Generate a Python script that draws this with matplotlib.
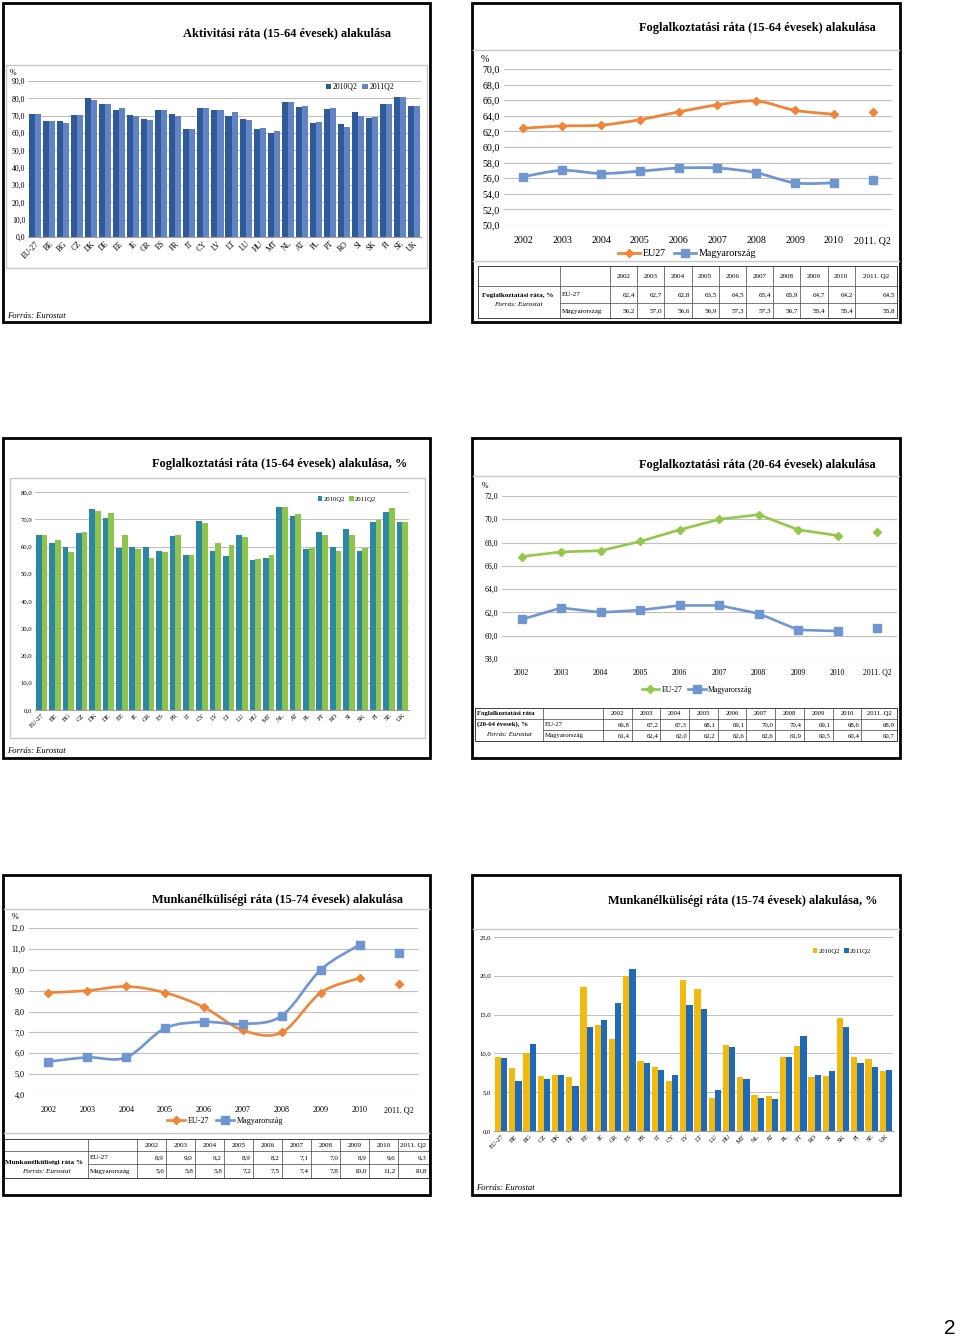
import numpy as np
import matplotlib
matplotlib.use('Agg')
import matplotlib.pyplot as plt
from matplotlib.patches import Rectangle, PathPatch
from matplotlib.lines import Line2D
from matplotlib.path import Path

W, H = 960, 1340
plt.rcParams['font.family'] = ['Liberation Serif', 'DejaVu Serif']

countries = ['EU-27', 'BE', 'BG', 'CZ', 'DK', 'DE', 'EE', 'IE', 'GR', 'ES', 'FR', 'IT', 'CY', 'LV',
             'LT', 'LU', 'HU', 'MT', 'NL', 'AT', 'PL', 'PT', 'RO', 'SI', 'SK', 'FI', 'SE', 'UK']
years = ['2002', '2003', '2004', '2005', '2006', '2007', '2008', '2009', '2010', '2011. Q2']
quarters = ['2010Q2', '2011Q2']

# aktivitasi rata 15-64
act_2010 = [71.0, 67.0, 67.2, 70.1, 80.1, 76.6, 73.5, 70.1, 68.2, 73.5, 70.8, 62.4, 74.3, 73.4,
            69.8, 67.8, 62.4, 60.2, 78.0, 75.0, 65.7, 74.0, 65.0, 72.0, 68.8, 76.6, 80.7, 75.5]
act_2011 = [71.1, 66.8, 65.5, 70.6, 79.3, 76.9, 74.5, 69.6, 67.3, 73.2, 69.8, 62.2, 74.3, 73.1,
            72.2, 67.4, 63.0, 61.2, 77.8, 75.5, 66.1, 74.5, 63.3, 70.0, 69.0, 76.9, 81.0, 75.5]

# foglalkoztatasi rata 15-64, orszagonkent
emp_2010 = [64.2, 61.3, 60.0, 65.0, 73.8, 70.5, 59.3, 60.0, 59.8, 58.5, 63.8, 57.0, 69.5, 58.5,
            56.5, 64.2, 55.2, 55.6, 74.5, 71.2, 59.0, 65.5, 60.0, 66.5, 58.5, 69.0, 72.8, 69.0]
emp_2011 = [64.2, 62.5, 58.0, 65.5, 73.0, 72.2, 64.2, 59.0, 55.8, 57.8, 64.2, 56.8, 68.8, 61.2,
            60.5, 63.5, 55.5, 57.0, 74.5, 72.0, 59.4, 64.4, 58.5, 64.2, 59.5, 69.6, 74.3, 69.0]

# munkanelkulisegi rata 15-74, orszagonkent
unemp_2010 = [9.6, 8.1, 10.0, 7.1, 7.2, 7.0, 18.6, 13.7, 11.8, 20.0, 9.0, 8.3, 6.4, 19.4,
              18.3, 4.2, 11.1, 6.9, 4.6, 4.5, 9.5, 10.9, 6.9, 7.1, 14.5, 9.6, 9.3, 7.7]
unemp_2011 = [9.4, 6.5, 11.2, 6.7, 7.2, 5.8, 13.4, 14.3, 16.5, 20.9, 8.7, 7.8, 7.2, 16.2,
              15.7, 5.3, 10.8, 6.7, 4.2, 4.1, 9.5, 12.3, 7.2, 7.7, 13.4, 8.8, 8.2, 7.8]

# idosorok
emp1564_eu = [62.4, 62.7, 62.8, 63.5, 64.5, 65.4, 65.9, 64.7, 64.2, 64.5]
emp1564_hu = [56.2, 57.0, 56.6, 56.9, 57.3, 57.3, 56.7, 55.4, 55.4, 55.8]
emp2064_eu = [66.8, 67.2, 67.3, 68.1, 69.1, 70.0, 70.4, 69.1, 68.6, 68.9]
emp2064_hu = [61.4, 62.4, 62.0, 62.2, 62.6, 62.6, 61.9, 60.5, 60.4, 60.7]
unemp_eu = [8.9, 9.0, 9.2, 8.9, 8.2, 7.1, 7.0, 8.9, 9.6, 9.3]
unemp_hu = [5.6, 5.8, 5.8, 7.2, 7.5, 7.4, 7.8, 10.0, 11.2, 10.8]

GRID = '#BFBFBF'
FRAME = '#C8C8C8'

fig = plt.figure(figsize=(9.6, 13.4), dpi=100)


def px_axes(x0, y0, x1, y1):
    return fig.add_axes([x0 / W, 1 - y1 / H, (x1 - x0) / W, (y1 - y0) / H])


def ftext(x, y, s, **kw):
    fig.text(x / W, 1 - y / H, s, **kw)


def box(x0, y0, x1, y1, lw=2.0, color='black'):
    fig.patches.append(Rectangle((x0 / W, 1 - y1 / H), (x1 - x0) / W, (y1 - y0) / H,
                                 transform=fig.transFigure, fill=False, lw=lw, edgecolor=color))


def hline(x0, x1, y, color=FRAME, lw=1.0):
    fig.add_artist(Line2D([x0 / W, x1 / W], [1 - y / H, 1 - y / H], color=color, lw=lw))


def comma(v):
    return f'{v:.1f}'.replace('.', ',')


def smooth_line(ax, xs, ys, color, lw=1.8):
    # bezier through the points, like excel's smoothed lines
    pts = np.column_stack([xs, ys]).astype(float)
    n = len(pts)
    verts = [pts[0]]
    codes = [Path.MOVETO]
    for i in range(n - 1):
        p0 = pts[max(i - 1, 0)]
        p1 = pts[i]
        p2 = pts[i + 1]
        p3 = pts[min(i + 2, n - 1)]
        verts += [p1 + (p2 - p0) / 6, p2 - (p3 - p1) / 6, p2]
        codes += [Path.CURVE4] * 3
    ax.add_patch(PathPatch(Path(verts, codes), fill=False, edgecolor=color, lw=lw, zorder=3))


def bar_panel(rect, v1, v2, c1, c2, ymax, step, fs, leg_xy, pct=None):
    ax = px_axes(*rect)
    x = np.arange(len(countries))
    w = 0.43
    ax.bar(x - w / 2, v1, w, color=c1, label=quarters[0], zorder=2)
    ax.bar(x + w / 2, v2, w, color=c2, label=quarters[1], zorder=2)
    ax.set_xlim(-0.5, len(countries) - 0.5)
    ax.set_ylim(0, ymax)
    ticks = np.arange(0, ymax + 0.01, step)
    ax.set_yticks(ticks)
    ax.set_yticklabels([comma(t) for t in ticks], fontsize=fs)
    ax.set_xticks(x)
    ax.set_xticklabels(countries, rotation=45, ha='right', rotation_mode='anchor', fontsize=fs)
    ax.grid(axis='y', color=GRID, lw=0.7)
    ax.set_axisbelow(True)
    for s in ['top', 'right', 'left']:
        ax.spines[s].set_visible(False)
    ax.spines['bottom'].set_color('#A0A0A0')
    ax.tick_params(length=0, pad=2)
    ax.patch.set_alpha(0)
    ax.legend(loc='center', bbox_to_anchor=(leg_xy[0] / W, 1 - leg_xy[1] / H),
              bbox_transform=fig.transFigure, ncol=2, frameon=False, fontsize=fs,
              handlelength=0.7, handleheight=0.7, handletextpad=0.2, columnspacing=0.6)
    if pct:
        ftext(pct[0], pct[1], '%', fontsize=fs, ha='center', va='center')
    return ax


def line_panel(rect, eu, hu, c_eu, ymin, ymax, step, fs, leg_xy, eu_label, smooth, pct,
               lw=1.8, xpad=3):
    ax = px_axes(*rect)
    x = np.arange(len(years))
    if smooth:
        smooth_line(ax, x[:-1], eu[:-1], c_eu, lw)
        smooth_line(ax, x[:-1], hu[:-1], '#7096D2', lw)
    else:
        ax.plot(x[:-1], eu[:-1], color=c_eu, lw=lw, zorder=3)
        ax.plot(x[:-1], hu[:-1], color='#7096D2', lw=lw, zorder=3)
    ax.plot(x, eu, ls='none', marker='D', ms=4, color=c_eu, zorder=4)
    ax.plot(x, hu, ls='none', marker='s', ms=5.5, color='#7096D2', zorder=4)
    ax.set_xlim(-0.5, len(years) - 0.5)
    ax.set_ylim(ymin, ymax)
    ticks = np.arange(ymin, ymax + 0.01, step)
    ax.set_yticks(ticks)
    ax.set_yticklabels([comma(t) for t in ticks], fontsize=fs)
    ax.set_xticks(x)
    ax.set_xticklabels(years, fontsize=fs)
    ax.grid(axis='y', color=GRID, lw=0.8)
    ax.set_axisbelow(True)
    for s in ['top', 'right', 'left', 'bottom']:
        ax.spines[s].set_visible(False)
    ax.tick_params(axis='y', length=0, pad=3)
    ax.tick_params(axis='x', length=0, pad=xpad)
    ax.patch.set_alpha(0)
    handles = [Line2D([], [], color=c_eu, lw=lw, marker='D', ms=4),
               Line2D([], [], color='#7096D2', lw=lw, marker='s', ms=5.5)]
    ax.legend(handles, [eu_label, 'Magyarország'], loc='center',
              bbox_to_anchor=(leg_xy[0] / W, 1 - leg_xy[1] / H), bbox_transform=fig.transFigure,
              ncol=2, frameon=False, fontsize=fs, handlelength=2.2, handletextpad=0.3,
              columnspacing=0.8)
    ftext(pct[0], pct[1], '%', fontsize=fs, ha='center', va='center')
    return ax


def data_table(rect, col_x, row_y, eu, hu, fs, labels):
    x0, y0, x1, y1 = rect
    ax = px_axes(x0, y0, x1, y1)
    ax.set_xlim(x0, x1)
    ax.set_ylim(y1, y0)
    ax.axis('off')
    lc = '#404040'
    ax.plot([col_x[0], col_x[-1], col_x[-1], col_x[0], col_x[0]],
            [row_y[0], row_y[0], row_y[-1], row_y[-1], row_y[0]], color=lc, lw=0.7)
    for cx in col_x[1:-1]:
        ax.plot([cx, cx], [row_y[0], row_y[-1]], color=lc, lw=0.5)
    ax.plot([col_x[0], col_x[-1]], [row_y[1], row_y[1]], color=lc, lw=0.5)
    ax.plot([col_x[1], col_x[-1]], [row_y[2], row_y[2]], color=lc, lw=0.5)
    for i, yr in enumerate(years):
        ax.text((col_x[i + 2] + col_x[i + 3]) / 2, (row_y[0] + row_y[1]) / 2 + 0.5, yr,
                ha='center', va='center', fontsize=fs)
    for r, (name, vals) in enumerate([('EU-27', eu), ('Magyarország', hu)]):
        ym = (row_y[r + 1] + row_y[r + 2]) / 2 + 0.5
        ax.text(col_x[1] + 1.5, ym, name, ha='left', va='center', fontsize=fs)
        for i, v in enumerate(vals):
            ax.text(col_x[i + 3] - 2, ym, comma(v), ha='right', va='center', fontsize=fs)
    for s, lx, ly, kw in labels:
        ax.text(lx, ly, s, va='center', fontsize=fs, **kw)


# panel borders
for bx in [(3, 3, 430, 322), (472, 3, 900, 322), (3, 438, 430, 758),
           (472, 438, 900, 758), (3, 875, 430, 1195), (472, 875, 900, 1195)]:
    box(*bx)

TITLE = dict(fontsize=8.9, fontweight='bold', ha='center', va='center')

# --- aktivitasi rata
ftext(287, 33, 'Aktivitási ráta (15-64 évesek) alakulása', **TITLE)
box(6, 65, 427, 268, lw=1.0, color=FRAME)
bar_panel((28, 81, 421, 237), act_2010, act_2011, '#2E5A9A', '#6283C4', 90, 10, 5.6,
          (360, 87), pct=(13, 73))
ftext(7, 316, 'Forrás: Eurostat', fontsize=6.2, style='italic', va='center')

# --- foglalkoztatasi rata 15-64 idosor
ftext(757, 28, 'Foglalkoztatási ráta (15-64 évesek) alakulása', **TITLE)
hline(473, 899, 50)
hline(473, 899, 261)
line_panel((504, 69, 892, 225), emp1564_eu, emp1564_hu, '#F0853A', 50, 70, 2, 7.2,
           (687, 254), 'EU27', True, (485, 59), lw=2.0, xpad=8)
data_table((474, 264, 899, 320), [478, 560, 610] + [610 + 27.2 * k for k in range(1, 10)] + [897],
           [266, 286, 303, 318], emp1564_eu, emp1564_hu, 5.1,
           [('Foglalkoztatási ráta, %', 482, 296, dict(fontweight='bold', ha='left')),
            ('Forrás: Eurostat', 518, 305, dict(style='italic', ha='center'))])

# --- foglalkoztatasi rata orszagonkent
ftext(280, 464, 'Foglalkoztatási ráta (15-64 évesek) alakulása, %', **TITLE)
box(10, 478, 425, 738, lw=1.0, color=FRAME)
bar_panel((35, 492, 409, 710), emp_2010, emp_2011, '#2C87A5', '#8DC449', 80, 10, 4.8,
          (347, 499))
ftext(7, 751, 'Forrás: Eurostat', fontsize=6.2, style='italic', va='center')

# --- foglalkoztatasi rata 20-64 idosor
ftext(757, 465, 'Foglalkoztatási ráta (20-64 évesek) alakulása', **TITLE)
hline(473, 899, 476)
line_panel((502, 496, 897, 659), emp2064_eu, emp2064_hu, '#92C94A', 58, 72, 2, 5.6,
           (697, 690), 'EU-27', False, (485, 486), lw=1.9, xpad=7)
data_table((474, 706, 899, 742), [475, 543, 603] + [603 + 28.7 * k for k in range(1, 10)] + [897],
           [708, 718.5, 729.5, 740.5], emp2064_eu, emp2064_hu, 4.9,
           [('Foglalkoztatási ráta', 477, 714, dict(fontweight='bold', ha='left')),
            ('(20-64 évesek), %', 477, 724, dict(fontweight='bold', ha='left')),
            ('Forrás: Eurostat', 509, 735, dict(style='italic', ha='center'))])

# --- munkanelkulisegi rata idosor
ftext(278, 900, 'Munkanélküliségi ráta (15-74 évesek) alakulása', **TITLE)
hline(4, 429, 909)
hline(4, 429, 1133)
line_panel((29, 928, 418, 1095), unemp_eu, unemp_hu, '#F0853A', 4, 12, 1, 5.9,
           (225, 1121), 'EU-27', True, (15, 917), lw=1.9, xpad=8)
data_table((3, 1137, 430, 1180), [4, 88, 137] + [137 + 29 * k for k in range(1, 10)] + [429],
           [1139, 1150.5, 1163.5, 1177.5], unemp_eu, unemp_hu, 5.1,
           [('Munkanélküliségi ráta %', 5, 1162, dict(fontweight='bold', ha='left')),
            ('Forrás: Eurostat', 46, 1171, dict(style='italic', ha='center'))])

# --- munkanelkulisegi rata orszagonkent
ftext(743, 901, 'Munkanélküliségi ráta (15-74 évesek) alakulása, %', **TITLE)
hline(473, 899, 929)
bar_panel((494, 937, 893, 1131), unemp_2010, unemp_2011, '#F2B90F', '#1E69B8', 25, 5, 4.8,
          (842, 951))
ftext(476, 1188, 'Forrás: Eurostat', fontsize=6.2, style='italic', va='center')

ftext(950, 1328, '2', fontsize=15, family='Liberation Sans', ha='center', va='center')

fig.savefig('out.png', dpi=100, facecolor='white')
